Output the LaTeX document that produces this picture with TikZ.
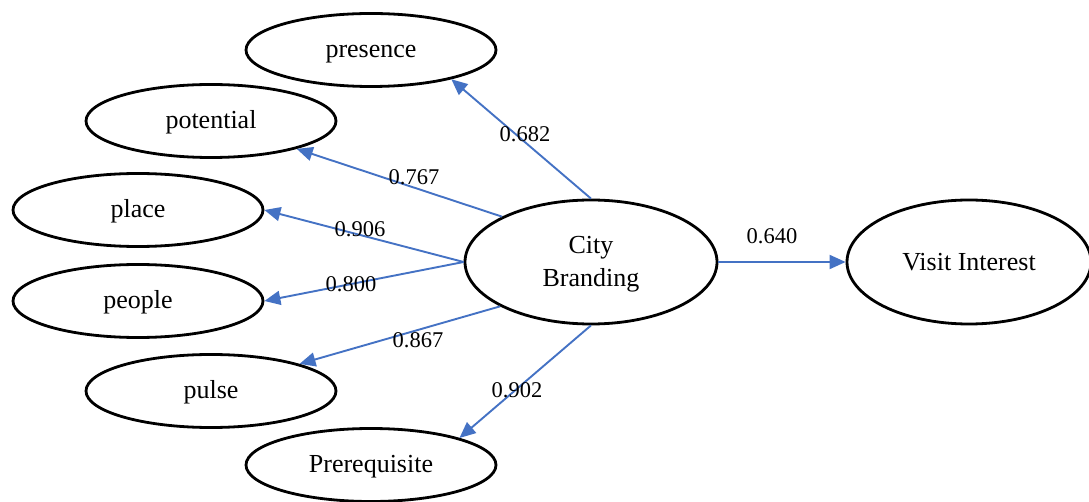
\documentclass[tikz,border=0pt]{standalone}
\usepackage{fontspec}
\setmainfont{Liberation Serif}
\usetikzlibrary{arrows.meta,shapes.geometric}
\definecolor{lnblue}{RGB}{68,114,196}
\newcommand\mydn[1]{\raisebox{-5pt}{#1}}
\tikzset{
  oval/.style={ellipse, draw=black, line width=2.8pt, minimum width=250pt, minimum height=73pt, inner sep=0pt,
    font=\fontsize{26}{33}\selectfont, text height=0.7em, text depth=0.2em},
  bigoval/.style={oval, minimum width=252pt, minimum height=124pt, text height=, text depth=},
  link/.style={draw=lnblue, line width=1.9pt, -{Triangle[length=16pt,width=14pt]}},
  lbl/.style={font=\fontsize{22.5}{26}\selectfont, inner sep=0pt}
}
\begin{document}
\begin{tikzpicture}[x=1pt,y=-1pt]
\useasboundingbox (0,0) rectangle (1089,502);
\node[oval] (pres) at (371,50) {\mydn{presence}};
\node[oval] (pot) at (211,121) {\mydn{potential}};
\node[oval] (pla) at (138,210) {\mydn{place}};
\node[oval] (peo) at (138,301) {\mydn{people}};
\node[oval] (pul) at (211,391) {\mydn{pulse}};
\node[oval] (pre) at (371,465) {\mydn{Prerequisite}};
\node[bigoval, align=center, font=\fontsize{26}{33}\selectfont] (cb) at (591,262) {\rule{0pt}{22pt}City\\Branding};
\node[bigoval, minimum width=244pt] (vi) at (969,262) {Visit Interest};

\draw[link] (cb.north) -- (pres.-20);
\draw[link] (cb.153.7) -- (pot.-18);
\draw[link] (cb.west) -- (pla.east);
\draw[link] (cb.west) -- (peo.east);
\draw[link] (cb.206.3) -- (pul.17);
\draw[link] (cb.south) -- (pre.17);
\draw[link] (cb.east) -- (vi.west);

\node[lbl] (l1) at (525,134) {0.682};
\node[lbl] (l2) at (414,177) {0.767};
\node[lbl] (l3) at (360,229) {0.906};
\node[lbl] (l4) at (351,284) {0.800};
\node[lbl] (l5) at (418,340) {0.867};
\node[lbl] (l6) at (517,390) {0.902};
\node[lbl] (l7) at (772,236) {0.640};
\end{tikzpicture}
\end{document}
